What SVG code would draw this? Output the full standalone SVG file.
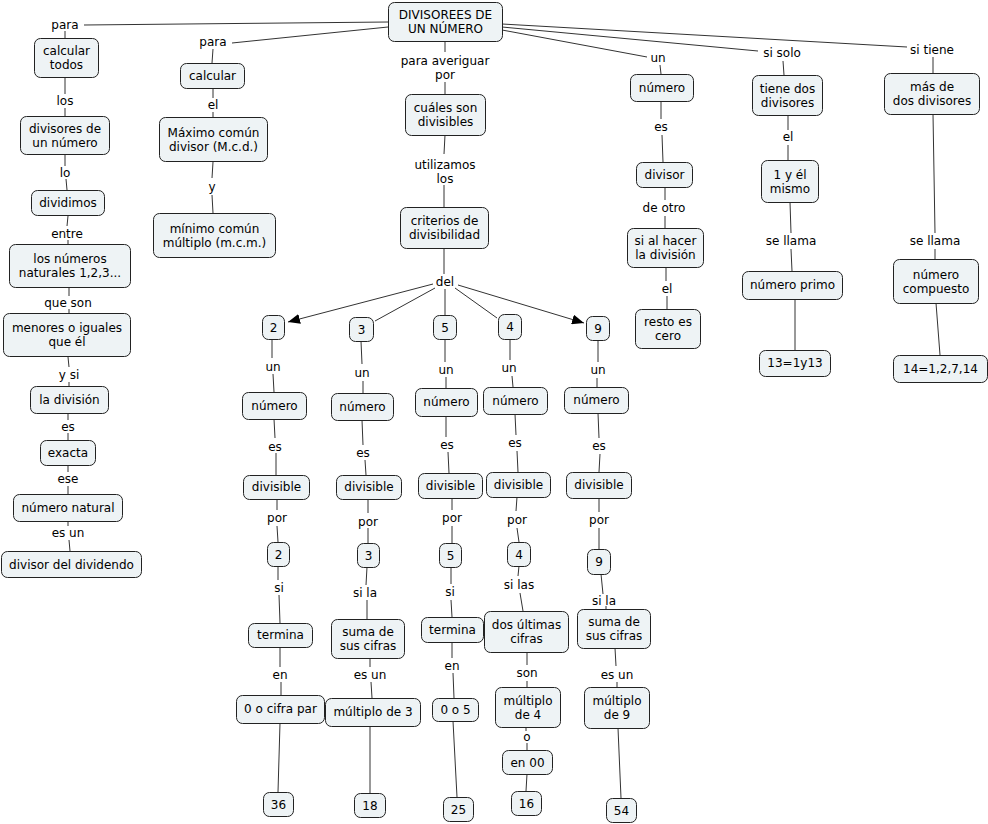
<svg xmlns="http://www.w3.org/2000/svg" width="988" height="824" viewBox="0 0 988 824">
<style>
text{font-family:"DejaVu Sans",Verdana,sans-serif;font-size:12px;fill:#000;text-anchor:middle}
.n rect{fill:#eef3f5;stroke:#222;stroke-width:1}
#c path{fill:none;stroke:#333;stroke-width:1}
</style>
<defs>
<marker id="ar" markerUnits="userSpaceOnUse" markerWidth="13" markerHeight="10" refX="12" refY="5" orient="auto"><path d="M0,0 L12,5 L0,10 z" fill="#000"/></marker>
</defs>
<rect width="988" height="824" fill="#fff"/>
<g id="c">
<path d="M388,22 L84,25 M65,31 L65,38 M65,78 L65,94 M65,108 L65,116 M65,155 L65,166 M66,179 L67,190 M68,216 L67,226 M68,240 L68,244 M69,288 L69,296 M69,309 L69,313 M68,357 L69,367 M69,382 L69,386 M68,414 L68,420 M68,433 L68,440 M68,465 L68,472 M68,486 L68,494 M68,521 L68,526 M69,540 L70,551"/>
<path d="M388,27 L232,43 M213,49 L212,63 M213,89 L213,98 M213,112 L213,117 M213,162 L212,178 M212,195 L213,213"/>
<path d="M445,41 L445,52 M445,82 L445,94 M445,135 L444,154 M444,185 L444,207 M444,248 L444,274"/>
<path d="M433,284 L288,322" marker-end="url(#ar)"/>
<path d="M435,288 L375,321 M445,289 L445,315 M455,288 L497,318"/>
<path d="M458,285 L584,323" marker-end="url(#ar)"/>
<path d="M272,339 L272,358 M273,374 L274,392 M274,419 L275,438 M276,453 L276,475 M277,499 L277,510 M277,526 L278,542 M278,566 L278,580 M279,595 L280,623 M280,647 L280,667 M281,682 L281,695 M280,723 L278,792"/>
<path d="M361,341 L362,364 M363,381 L363,393 M362,420 L363,445 M365,460 L366,475 M368,499 L368,513 M368,528 L368,543 M367,567 L366,585 M367,600 L367,619 M370,658 L370,667 M371,682 L372,698 M370,726 L370,793"/>
<path d="M445,339 L445,362 M446,377 L446,388 M446,416 L446,437 M448,452 L449,473 M452,498 L452,510 M452,526 L452,543 M451,567 L451,584 M451,600 L452,617 M452,642 L452,658 M453,673 L454,698 M453,721 L457,797"/>
<path d="M510,339 L510,360 M512,376 L513,387 M515,414 L516,435 M517,451 L518,472 M517,497 L516,511 M517,528 L519,542 M519,566 L518,576 M520,593 L523,611 M527,652 L527,665 M527,681 L527,687 M526,727 L526,731 M527,743 L527,750 M527,774 L526,791"/>
<path d="M598,340 L598,362 M597,378 L597,387 M598,413 L599,438 M600,454 L599,472 M599,498 L599,512 M599,528 L599,549 M601,574 L603,594 M606,606 L606,609 M615,648 L616,666 M617,682 L617,687 M618,728 L621,798"/>
<path d="M502,30 L647,57 M660,65 L661,74 M661,101 L661,119 M662,135 L663,162 M665,187 L665,200 M665,216 L665,228 M666,267 L666,281 M667,296 L667,309"/>
<path d="M502,27 L758,51 M783,61 L784,75 M788,115 L788,130 M788,145 L788,160 M790,202 L791,233 M791,249 L792,271 M795,299 L795,350"/>
<path d="M502,24 L907,47 M933,57 L933,73 M933,114 L935,233 M935,249 L935,259 M936,303 L940,355"/>
</g>
<g id="labels">
<text x="65" y="29">para</text>
<text x="65" y="105">los</text>
<text x="65" y="177">lo</text>
<text x="67" y="238">entre</text>
<text x="68" y="307">que son</text>
<text x="69" y="379">y si</text>
<text x="68" y="431">es</text>
<text x="68" y="483">ese</text>
<text x="68" y="537">es un</text>
<text x="213" y="46">para</text>
<text x="213" y="109">el</text>
<text x="212" y="191">y</text>
<text x="445" y="65">para averiguar</text>
<text x="445" y="79">por</text>
<text x="445" y="169">utilizamos</text>
<text x="445" y="183">los</text>
<text x="445" y="286">del</text>
<text x="273" y="371">un</text>
<text x="275" y="451">es</text>
<text x="277" y="522">por</text>
<text x="279" y="592">si</text>
<text x="280" y="679">en</text>
<text x="362" y="377">un</text>
<text x="363" y="457">es</text>
<text x="368" y="526">por</text>
<text x="365" y="597">si la</text>
<text x="370" y="679">es un</text>
<text x="446" y="374">un</text>
<text x="447" y="449">es</text>
<text x="452" y="522">por</text>
<text x="450" y="596">si</text>
<text x="452" y="670">en</text>
<text x="509" y="372">un</text>
<text x="515" y="447">es</text>
<text x="517" y="524">por</text>
<text x="519" y="589">si las</text>
<text x="527" y="677">son</text>
<text x="527" y="741">o</text>
<text x="598" y="374">un</text>
<text x="599" y="450">es</text>
<text x="599" y="524">por</text>
<text x="604" y="605">si la</text>
<text x="617" y="679">es un</text>
<text x="658" y="62">un</text>
<text x="661" y="131">es</text>
<text x="664" y="212">de otro</text>
<text x="667" y="293">el</text>
<text x="782" y="57">si solo</text>
<text x="788" y="141">el</text>
<text x="791" y="245">se llama</text>
<text x="932" y="54">si tiene</text>
<text x="935" y="245">se llama</text>
</g>
<g id="root" class="n"><rect x="388.5" y="2.5" width="114" height="39" rx="6"/><text x="445.5" y="19">DIVISOREES DE</text><text x="445.5" y="33">UN NÚMERO</text></g>
<g id="n1" class="n"><rect x="34.5" y="38.5" width="64" height="39" rx="6"/><text x="66.5" y="55">calcular</text><text x="66.5" y="69">todos</text></g>
<g id="n2" class="n"><rect x="20.5" y="116.5" width="89" height="38" rx="6"/><text x="65" y="133">divisores de</text><text x="65" y="147">un número</text></g>
<g id="n3" class="n"><rect x="31.5" y="190.5" width="73" height="25" rx="6"/><text x="68" y="207">dividimos</text></g>
<g id="n4" class="n"><rect x="9.5" y="244.5" width="121" height="43" rx="6"/><text x="70" y="263">los números</text><text x="70" y="277">naturales 1,2,3...</text></g>
<g id="n5" class="n"><rect x="3.5" y="313.5" width="127" height="43" rx="6"/><text x="67" y="332">menores o iguales</text><text x="67" y="346">que él</text></g>
<g id="n6" class="n"><rect x="30.5" y="386.5" width="78" height="27" rx="6"/><text x="69.5" y="404">la división</text></g>
<g id="n7" class="n"><rect x="40.5" y="440.5" width="55" height="25" rx="6"/><text x="68" y="457">exacta</text></g>
<g id="n8" class="n"><rect x="13.5" y="494.5" width="109" height="27" rx="6"/><text x="68" y="512">número natural</text></g>
<g id="n9" class="n"><rect x="1.5" y="551.5" width="140" height="26" rx="6"/><text x="71.5" y="569">divisor del dividendo</text></g>
<g id="n10" class="n"><rect x="180.5" y="63.5" width="64" height="25" rx="6"/><text x="212.5" y="80">calcular</text></g>
<g id="n11" class="n"><rect x="159.5" y="117.5" width="108" height="44" rx="6"/><text x="213.5" y="137">Máximo común</text><text x="213.5" y="151">divisor (M.c.d.)</text></g>
<g id="n12" class="n"><rect x="153.5" y="213.5" width="122" height="44" rx="6"/><text x="214.5" y="233">mínimo común</text><text x="214.5" y="247">múltiplo (m.c.m.)</text></g>
<g id="n14" class="n"><rect x="405.5" y="94.5" width="80" height="41" rx="6"/><text x="445.5" y="112">cuáles son</text><text x="445.5" y="126">divisibles</text></g>
<g id="n15" class="n"><rect x="400.5" y="207.5" width="88" height="41" rx="6"/><text x="444.5" y="225">criterios de</text><text x="444.5" y="239">divisibilidad</text></g>
<g id="d2" class="n"><rect x="262.5" y="315.5" width="22" height="24" rx="6"/><text x="273.5" y="332">2</text></g>
<g id="d3" class="n"><rect x="349.5" y="317.5" width="24" height="24" rx="6"/><text x="361.5" y="334">3</text></g>
<g id="d5" class="n"><rect x="433.5" y="315.5" width="23" height="24" rx="6"/><text x="445" y="332">5</text></g>
<g id="d4" class="n"><rect x="498.5" y="314.5" width="23" height="25" rx="6"/><text x="510" y="331">4</text></g>
<g id="d9" class="n"><rect x="586.5" y="316.5" width="23" height="24" rx="6"/><text x="598" y="333">9</text></g>
<g id="a1" class="n"><rect x="242.5" y="392.5" width="64" height="27" rx="6"/><text x="274.5" y="410">número</text></g>
<g id="a2" class="n"><rect x="243.5" y="475.5" width="66" height="24" rx="6"/><text x="276.5" y="491">divisible</text></g>
<g id="a3" class="n"><rect x="267.5" y="542.5" width="22" height="24" rx="6"/><text x="278.5" y="559">2</text></g>
<g id="a4" class="n"><rect x="248.5" y="623.5" width="64" height="24" rx="6"/><text x="280.5" y="639">termina</text></g>
<g id="a5" class="n"><rect x="236.5" y="695.5" width="88" height="28" rx="6"/><text x="280.5" y="713">0 o cifra par</text></g>
<g id="a6" class="n"><rect x="263.5" y="792.5" width="30" height="24" rx="6"/><text x="278.5" y="809">36</text></g>
<g id="b1" class="n"><rect x="331.5" y="393.5" width="62" height="27" rx="6"/><text x="362.5" y="411">número</text></g>
<g id="b2" class="n"><rect x="336.5" y="475.5" width="65" height="24" rx="6"/><text x="369" y="491">divisible</text></g>
<g id="b3" class="n"><rect x="357.5" y="543.5" width="22" height="24" rx="6"/><text x="368.5" y="560">3</text></g>
<g id="b4" class="n"><rect x="331.5" y="619.5" width="73" height="39" rx="6"/><text x="368" y="636">suma de</text><text x="368" y="650">sus cifras</text></g>
<g id="b5" class="n"><rect x="325.5" y="698.5" width="95" height="28" rx="6"/><text x="373" y="716">múltiplo de 3</text></g>
<g id="b6" class="n"><rect x="354.5" y="793.5" width="31" height="24" rx="6"/><text x="370" y="810">18</text></g>
<g id="e1" class="n"><rect x="415.5" y="388.5" width="62" height="28" rx="6"/><text x="446.5" y="406">número</text></g>
<g id="e2" class="n"><rect x="418.5" y="473.5" width="64" height="25" rx="6"/><text x="450.5" y="490">divisible</text></g>
<g id="e3" class="n"><rect x="439.5" y="543.5" width="22" height="24" rx="6"/><text x="450.5" y="560">5</text></g>
<g id="e4" class="n"><rect x="421.5" y="617.5" width="62" height="25" rx="6"/><text x="452.5" y="634">termina</text></g>
<g id="e5" class="n"><rect x="432.5" y="698.5" width="46" height="23" rx="6"/><text x="455.5" y="714">0 o 5</text></g>
<g id="e6" class="n"><rect x="443.5" y="797.5" width="30" height="24" rx="6"/><text x="458.5" y="814">25</text></g>
<g id="f1" class="n"><rect x="483.5" y="387.5" width="64" height="27" rx="6"/><text x="515.5" y="405">número</text></g>
<g id="f2" class="n"><rect x="486.5" y="472.5" width="64" height="25" rx="6"/><text x="518.5" y="489">divisible</text></g>
<g id="f3" class="n"><rect x="507.5" y="542.5" width="23" height="24" rx="6"/><text x="519" y="559">4</text></g>
<g id="f4" class="n"><rect x="484.5" y="611.5" width="84" height="41" rx="6"/><text x="526.5" y="629">dos últimas</text><text x="526.5" y="643">cifras</text></g>
<g id="f5" class="n"><rect x="495.5" y="687.5" width="65" height="40" rx="6"/><text x="528" y="705">múltiplo</text><text x="528" y="719">de 4</text></g>
<g id="f6" class="n"><rect x="502.5" y="750.5" width="50" height="24" rx="6"/><text x="527.5" y="767">en 00</text></g>
<g id="f7" class="n"><rect x="511.5" y="791.5" width="30" height="24" rx="6"/><text x="526.5" y="808">16</text></g>
<g id="g1" class="n"><rect x="564.5" y="387.5" width="64" height="26" rx="6"/><text x="596.5" y="404">número</text></g>
<g id="g2" class="n"><rect x="566.5" y="472.5" width="65" height="26" rx="6"/><text x="599" y="489">divisible</text></g>
<g id="g3" class="n"><rect x="587.5" y="549.5" width="23" height="25" rx="6"/><text x="599" y="566">9</text></g>
<g id="g4" class="n"><rect x="577.5" y="609.5" width="73" height="39" rx="6"/><text x="614" y="626">suma de</text><text x="614" y="640">sus cifras</text></g>
<g id="g5" class="n"><rect x="584.5" y="687.5" width="65" height="41" rx="6"/><text x="617" y="705">múltiplo</text><text x="617" y="719">de 9</text></g>
<g id="g6" class="n"><rect x="606.5" y="798.5" width="30" height="24" rx="6"/><text x="621.5" y="815">54</text></g>
<g id="h1" class="n"><rect x="630.5" y="74.5" width="63" height="27" rx="6"/><text x="662" y="92">número</text></g>
<g id="h2" class="n"><rect x="636.5" y="162.5" width="56" height="25" rx="6"/><text x="664.5" y="179">divisor</text></g>
<g id="h3" class="n"><rect x="627.5" y="228.5" width="76" height="39" rx="6"/><text x="665.5" y="245">si al hacer</text><text x="665.5" y="259">la división</text></g>
<g id="h4" class="n"><rect x="635.5" y="309.5" width="65" height="39" rx="6"/><text x="668" y="326">resto es</text><text x="668" y="340">cero</text></g>
<g id="i1" class="n"><rect x="752.5" y="75.5" width="70" height="40" rx="6"/><text x="787.5" y="93">tiene dos</text><text x="787.5" y="107">divisores</text></g>
<g id="i2" class="n"><rect x="761.5" y="160.5" width="57" height="42" rx="6"/><text x="790" y="179">1 y él</text><text x="790" y="193">mismo</text></g>
<g id="i3" class="n"><rect x="742.5" y="271.5" width="100" height="28" rx="6"/><text x="792.5" y="289">número primo</text></g>
<g id="i4" class="n"><rect x="759.5" y="350.5" width="71" height="26" rx="6"/><text x="795" y="367">13=1y13</text></g>
<g id="j1" class="n"><rect x="884.5" y="73.5" width="95" height="41" rx="6"/><text x="932" y="91">más de</text><text x="932" y="105">dos divisores</text></g>
<g id="j2" class="n"><rect x="893.5" y="259.5" width="85" height="44" rx="6"/><text x="936" y="279">número</text><text x="936" y="293">compuesto</text></g>
<g id="j3" class="n"><rect x="893.5" y="355.5" width="94" height="27" rx="6"/><text x="940.5" y="373">14=1,2,7,14</text></g>
</svg>
